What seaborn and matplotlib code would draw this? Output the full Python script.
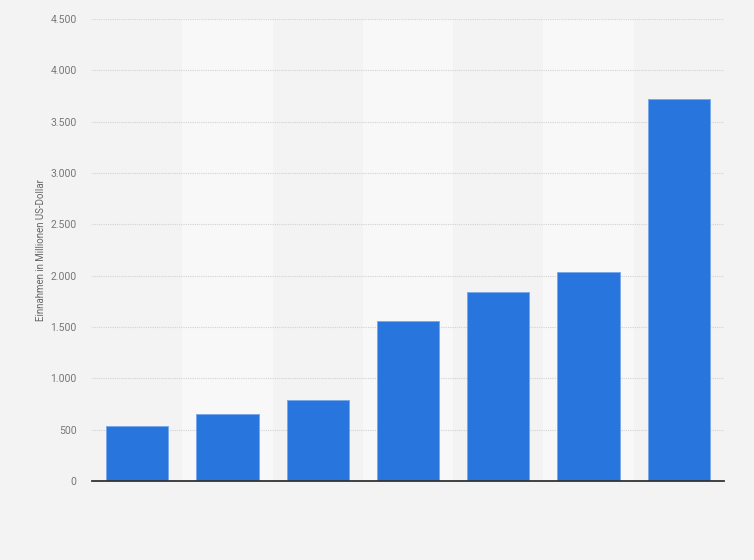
import numpy as np
import pandas as pd
import matplotlib
matplotlib.use("Agg")
import matplotlib.pyplot as plt
from matplotlib.ticker import FuncFormatter, MultipleLocator
import seaborn as sns

# Datos
categorias = ["1", "2", "3", "4", "5", "6", "7"]
einnahmen = [536, 650, 791, 1556, 1840, 2033, 3716]
y_ticks_max = 4500

df = pd.DataFrame({"kategorie": categorias, "wert": einnahmen})

sns.set_style("white")
plt.rcParams["font.family"] = ["Roboto", "DejaVu Sans"]

fig = plt.figure(figsize=(7.54, 5.60), dpi=100, facecolor="#f3f3f3")
ax = fig.add_axes([92 / 754, 1 - 481 / 560, 632 / 754, 462 / 560])
ax.set_facecolor("#f3f3f3")

# bandas alternas de fondo
for i in range(len(categorias)):
    if i % 2 == 1:
        ax.axvspan(i - 0.5, i + 0.5, color="#f8f8f8", zorder=0, lw=0)

sns.barplot(data=df, x="kategorie", y="wert", color="#2876dd", width=0.69,
            edgecolor="#7aa8ea", linewidth=0.7, saturation=1, ax=ax, zorder=3)

ax.set_xlim(-0.5, len(categorias) - 0.5)
ax.set_ylim(0, y_ticks_max)
ax.yaxis.set_major_locator(MultipleLocator(500))
ax.yaxis.set_major_formatter(FuncFormatter(lambda v, p: f"{v:,.0f}".replace(",", ".")))
ax.grid(axis="y", color="#d2d2d2", linestyle=(0, (1, 1)), linewidth=0.8, zorder=1)
ax.set_axisbelow(True)

for s in ["top", "right", "left"]:
    ax.spines[s].set_visible(False)
ax.spines["bottom"].set_color("#333333")
ax.spines["bottom"].set_linewidth(1.3)
ax.spines["bottom"].set_zorder(5)

ax.tick_params(axis="x", length=0, labelbottom=False)
ax.tick_params(axis="y", length=0, pad=11, labelsize=7.5, labelcolor="#777777")
ax.set_xlabel("")
ax.set_ylabel("Einnahmen in Millionen US-Dollar", fontsize=7, color="#666666")
ax.yaxis.set_label_coords(-0.073, 0.5)

fig.savefig("out.png", dpi=100, facecolor=fig.get_facecolor())
